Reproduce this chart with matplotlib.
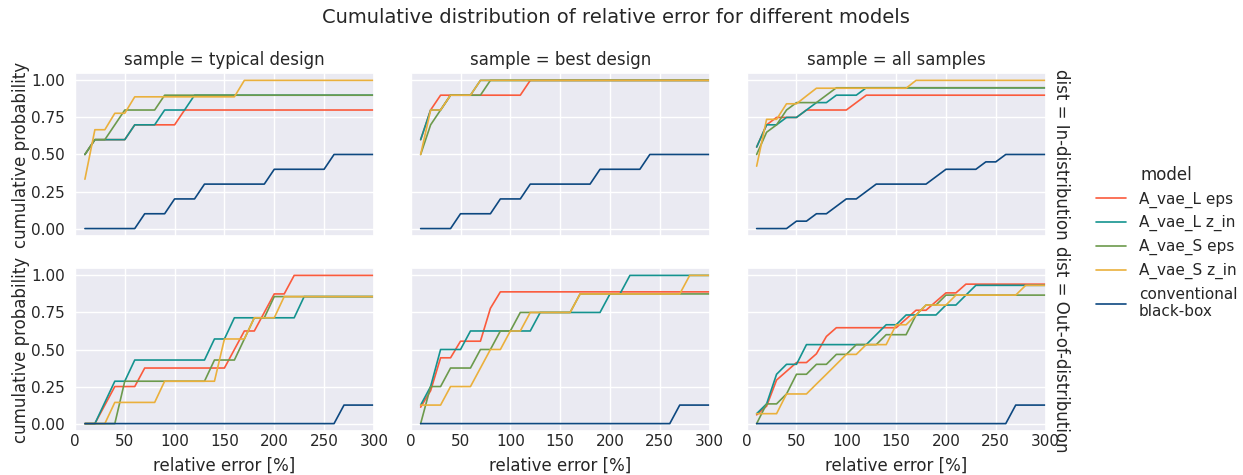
import matplotlib
matplotlib.use('Agg')
import matplotlib.pyplot as plt
import seaborn as sns

sns.set_theme(style='darkgrid')
plt.rcParams['font.family'] = ['DejaVu Sans']

# relative error grid [%]
x_err = list(range(10, 301, 10))

models = ['A_vae_L eps', 'A_vae_L z_in', 'A_vae_S eps', 'A_vae_S z_in', 'conventional\nblack-box']
colors = ['#FB5A3C', '#14938F', '#6C9A4C', '#EAB03C', '#0D4880']
samples = ['typical design', 'best design', 'all samples']
dists = ['In-distribution', 'Out-of-distribution']

# cumulative probability per model (order as in `models`), one list per panel
typ_in = [
    [0.5, 0.6, 0.6, 0.6, 0.6, 0.7, 0.7, 0.7, 0.7, 0.7, 0.8, 0.8, 0.8, 0.8, 0.8, 0.8, 0.8, 0.8, 0.8, 0.8, 0.8, 0.8, 0.8, 0.8, 0.8, 0.8, 0.8, 0.8, 0.8, 0.8],
    [0.5, 0.6, 0.6, 0.6, 0.6, 0.7, 0.7, 0.7, 0.8, 0.8, 0.8, 0.9, 0.9, 0.9, 0.9, 0.9, 0.9, 0.9, 0.9, 0.9, 0.9, 0.9, 0.9, 0.9, 0.9, 0.9, 0.9, 0.9, 0.9, 0.9],
    [0.5, 0.6, 0.6, 0.7, 0.8, 0.8, 0.8, 0.8, 0.9, 0.9, 0.9, 0.9, 0.9, 0.9, 0.9, 0.9, 0.9, 0.9, 0.9, 0.9, 0.9, 0.9, 0.9, 0.9, 0.9, 0.9, 0.9, 0.9, 0.9, 0.9],
    [0.333, 0.667, 0.667, 0.778, 0.778, 0.889, 0.889, 0.889, 0.889, 0.889, 0.889, 0.889, 0.889, 0.889, 0.889, 0.889, 1.0, 1.0, 1.0, 1.0, 1.0, 1.0, 1.0, 1.0, 1.0, 1.0, 1.0, 1.0, 1.0, 1.0],
    [0, 0, 0, 0, 0, 0, 0.1, 0.1, 0.1, 0.2, 0.2, 0.2, 0.3, 0.3, 0.3, 0.3, 0.3, 0.3, 0.3, 0.4, 0.4, 0.4, 0.4, 0.4, 0.4, 0.5, 0.5, 0.5, 0.5, 0.5],
]
best_in = [
    [0.6, 0.8, 0.9, 0.9, 0.9, 0.9, 0.9, 0.9, 0.9, 0.9, 0.9, 1.0, 1.0, 1.0, 1.0, 1.0, 1.0, 1.0, 1.0, 1.0, 1.0, 1.0, 1.0, 1.0, 1.0, 1.0, 1.0, 1.0, 1.0, 1.0],
    [0.6, 0.8, 0.8, 0.9, 0.9, 0.9, 1.0, 1.0, 1.0, 1.0, 1.0, 1.0, 1.0, 1.0, 1.0, 1.0, 1.0, 1.0, 1.0, 1.0, 1.0, 1.0, 1.0, 1.0, 1.0, 1.0, 1.0, 1.0, 1.0, 1.0],
    [0.5, 0.7, 0.8, 0.9, 0.9, 0.9, 0.9, 1.0, 1.0, 1.0, 1.0, 1.0, 1.0, 1.0, 1.0, 1.0, 1.0, 1.0, 1.0, 1.0, 1.0, 1.0, 1.0, 1.0, 1.0, 1.0, 1.0, 1.0, 1.0, 1.0],
    [0.5, 0.8, 0.8, 0.9, 0.9, 0.9, 1.0, 1.0, 1.0, 1.0, 1.0, 1.0, 1.0, 1.0, 1.0, 1.0, 1.0, 1.0, 1.0, 1.0, 1.0, 1.0, 1.0, 1.0, 1.0, 1.0, 1.0, 1.0, 1.0, 1.0],
    [0, 0, 0, 0, 0.1, 0.1, 0.1, 0.1, 0.2, 0.2, 0.2, 0.3, 0.3, 0.3, 0.3, 0.3, 0.3, 0.3, 0.4, 0.4, 0.4, 0.4, 0.4, 0.5, 0.5, 0.5, 0.5, 0.5, 0.5, 0.5],
]
all_in = [
    [0.55, 0.7, 0.75, 0.75, 0.75, 0.8, 0.8, 0.8, 0.8, 0.8, 0.85, 0.9, 0.9, 0.9, 0.9, 0.9, 0.9, 0.9, 0.9, 0.9, 0.9, 0.9, 0.9, 0.9, 0.9, 0.9, 0.9, 0.9, 0.9, 0.9],
    [0.55, 0.7, 0.7, 0.75, 0.75, 0.8, 0.85, 0.85, 0.9, 0.9, 0.9, 0.95, 0.95, 0.95, 0.95, 0.95, 0.95, 0.95, 0.95, 0.95, 0.95, 0.95, 0.95, 0.95, 0.95, 0.95, 0.95, 0.95, 0.95, 0.95],
    [0.5, 0.65, 0.7, 0.8, 0.85, 0.85, 0.85, 0.9, 0.95, 0.95, 0.95, 0.95, 0.95, 0.95, 0.95, 0.95, 0.95, 0.95, 0.95, 0.95, 0.95, 0.95, 0.95, 0.95, 0.95, 0.95, 0.95, 0.95, 0.95, 0.95],
    [0.421, 0.737, 0.737, 0.842, 0.842, 0.895, 0.947, 0.947, 0.947, 0.947, 0.947, 0.947, 0.947, 0.947, 0.947, 0.947, 1.0, 1.0, 1.0, 1.0, 1.0, 1.0, 1.0, 1.0, 1.0, 1.0, 1.0, 1.0, 1.0, 1.0],
    [0, 0, 0, 0, 0.05, 0.05, 0.1, 0.1, 0.15, 0.2, 0.2, 0.25, 0.3, 0.3, 0.3, 0.3, 0.3, 0.3, 0.35, 0.4, 0.4, 0.4, 0.4, 0.45, 0.45, 0.5, 0.5, 0.5, 0.5, 0.5],
]
typ_out = [
    [0, 0, 0.125, 0.25, 0.25, 0.25, 0.375, 0.375, 0.375, 0.375, 0.375, 0.375, 0.375, 0.375, 0.375, 0.5, 0.625, 0.625, 0.75, 0.875, 0.875, 1.0, 1.0, 1.0, 1.0, 1.0, 1.0, 1.0, 1.0, 1.0],
    [0, 0, 0.143, 0.286, 0.286, 0.429, 0.429, 0.429, 0.429, 0.429, 0.429, 0.429, 0.429, 0.571, 0.571, 0.714, 0.714, 0.714, 0.714, 0.714, 0.714, 0.714, 0.857, 0.857, 0.857, 0.857, 0.857, 0.857, 0.857, 0.857],
    [0, 0, 0, 0, 0.286, 0.286, 0.286, 0.286, 0.286, 0.286, 0.286, 0.286, 0.286, 0.429, 0.429, 0.429, 0.571, 0.714, 0.714, 0.857, 0.857, 0.857, 0.857, 0.857, 0.857, 0.857, 0.857, 0.857, 0.857, 0.857],
    [0, 0, 0, 0.143, 0.143, 0.143, 0.143, 0.143, 0.286, 0.286, 0.286, 0.286, 0.286, 0.286, 0.571, 0.571, 0.571, 0.714, 0.714, 0.714, 0.857, 0.857, 0.857, 0.857, 0.857, 0.857, 0.857, 0.857, 0.857, 0.857],
    [0, 0, 0, 0, 0, 0, 0, 0, 0, 0, 0, 0, 0, 0, 0, 0, 0, 0, 0, 0, 0, 0, 0, 0, 0, 0, 0.125, 0.125, 0.125, 0.125],
]
best_out = [
    [0.111, 0.222, 0.444, 0.444, 0.556, 0.556, 0.556, 0.778, 0.889, 0.889, 0.889, 0.889, 0.889, 0.889, 0.889, 0.889, 0.889, 0.889, 0.889, 0.889, 0.889, 0.889, 0.889, 0.889, 0.889, 0.889, 0.889, 0.889, 0.889, 0.889],
    [0.125, 0.25, 0.5, 0.5, 0.5, 0.625, 0.625, 0.625, 0.625, 0.625, 0.625, 0.625, 0.75, 0.75, 0.75, 0.75, 0.75, 0.75, 0.75, 0.875, 0.875, 1.0, 1.0, 1.0, 1.0, 1.0, 1.0, 1.0, 1.0, 1.0],
    [0, 0.25, 0.25, 0.375, 0.375, 0.375, 0.5, 0.5, 0.625, 0.625, 0.75, 0.75, 0.75, 0.75, 0.75, 0.75, 0.875, 0.875, 0.875, 0.875, 0.875, 0.875, 0.875, 0.875, 0.875, 0.875, 0.875, 0.875, 0.875, 0.875],
    [0.125, 0.125, 0.125, 0.25, 0.25, 0.25, 0.375, 0.5, 0.5, 0.625, 0.625, 0.75, 0.75, 0.75, 0.75, 0.75, 0.875, 0.875, 0.875, 0.875, 0.875, 0.875, 0.875, 0.875, 0.875, 0.875, 0.875, 1.0, 1.0, 1.0],
    [0, 0, 0, 0, 0, 0, 0, 0, 0, 0, 0, 0, 0, 0, 0, 0, 0, 0, 0, 0, 0, 0, 0, 0, 0, 0, 0.125, 0.125, 0.125, 0.125],
]
all_out = [
    [0.059, 0.118, 0.294, 0.353, 0.412, 0.412, 0.471, 0.588, 0.647, 0.647, 0.647, 0.647, 0.647, 0.647, 0.647, 0.706, 0.765, 0.765, 0.824, 0.882, 0.882, 0.941, 0.941, 0.941, 0.941, 0.941, 0.941, 0.941, 0.941, 0.941],
    [0.067, 0.133, 0.333, 0.4, 0.4, 0.533, 0.533, 0.533, 0.533, 0.533, 0.533, 0.533, 0.6, 0.667, 0.667, 0.733, 0.733, 0.733, 0.733, 0.8, 0.8, 0.867, 0.933, 0.933, 0.933, 0.933, 0.933, 0.933, 0.933, 0.933],
    [0, 0.133, 0.133, 0.2, 0.333, 0.333, 0.4, 0.4, 0.467, 0.467, 0.533, 0.533, 0.533, 0.6, 0.6, 0.6, 0.733, 0.8, 0.8, 0.867, 0.867, 0.867, 0.867, 0.867, 0.867, 0.867, 0.867, 0.867, 0.867, 0.867],
    [0.067, 0.067, 0.067, 0.2, 0.2, 0.2, 0.267, 0.333, 0.4, 0.467, 0.467, 0.533, 0.533, 0.533, 0.667, 0.667, 0.733, 0.8, 0.8, 0.8, 0.867, 0.867, 0.867, 0.867, 0.867, 0.867, 0.867, 0.933, 0.933, 0.933],
    [0, 0, 0, 0, 0, 0, 0, 0, 0, 0, 0, 0, 0, 0, 0, 0, 0, 0, 0, 0, 0, 0, 0, 0, 0, 0, 0.125, 0.125, 0.125, 0.125],
]

panels = [[typ_in, best_in, all_in], [typ_out, best_out, all_out]]

fig = plt.figure(figsize=(12.43, 4.75), dpi=100)
lefts = [0.0603, 0.3304, 0.6007]
bottoms = [0.5032, 0.0926]
w, h = 0.2405, 0.3432

handles = []
for r in range(2):
    for c in range(3):
        ax = fig.add_axes([lefts[c], bottoms[r], w, h])
        for k, m in enumerate(models):
            ln, = ax.plot(x_err, panels[r][c][k], color=colors[k], lw=1.2, label=m)
            if r == 0 and c == 0:
                handles.append(ln)
        ax.set_xlim(0, 300)
        ax.set_ylim(-0.05, 1.05)
        ax.set_xticks(range(0, 301, 50))
        ax.set_yticks([0, 0.25, 0.5, 0.75, 1.0])
        ax.set_yticklabels(['0.00', '0.25', '0.50', '0.75', '1.00'])
        ax.tick_params(axis='x', labelsize=11, size=0, pad=2.5)
        ax.tick_params(axis='y', labelsize=11, size=0, pad=7)
        if r == 0:
            ax.set_title(f'sample = {samples[c]}', fontsize=12)
            ax.tick_params(labelbottom=False)
        else:
            ax.set_xlabel('relative error [%]', fontsize=12, labelpad=5.5)
        if c == 0:
            ax.set_ylabel('cumulative probability', fontsize=12, labelpad=1)
        else:
            ax.tick_params(labelleft=False)
        if c == 2:
            ax.text(1.02, 0.5, f'dist = {dists[r]}', rotation=270, ha='left', va='center',
                    transform=ax.transAxes, fontsize=12)

fig.text(0.4952, 0.964, 'Cumulative distribution of relative error for different models',
         ha='center', va='center', fontsize=14)

fig.legend(handles, models, title='model', loc='center left', bbox_to_anchor=(0.8706, 0.4895),
           frameon=False, fontsize=11, title_fontsize=12)

fig.savefig('out.png', dpi=100)
